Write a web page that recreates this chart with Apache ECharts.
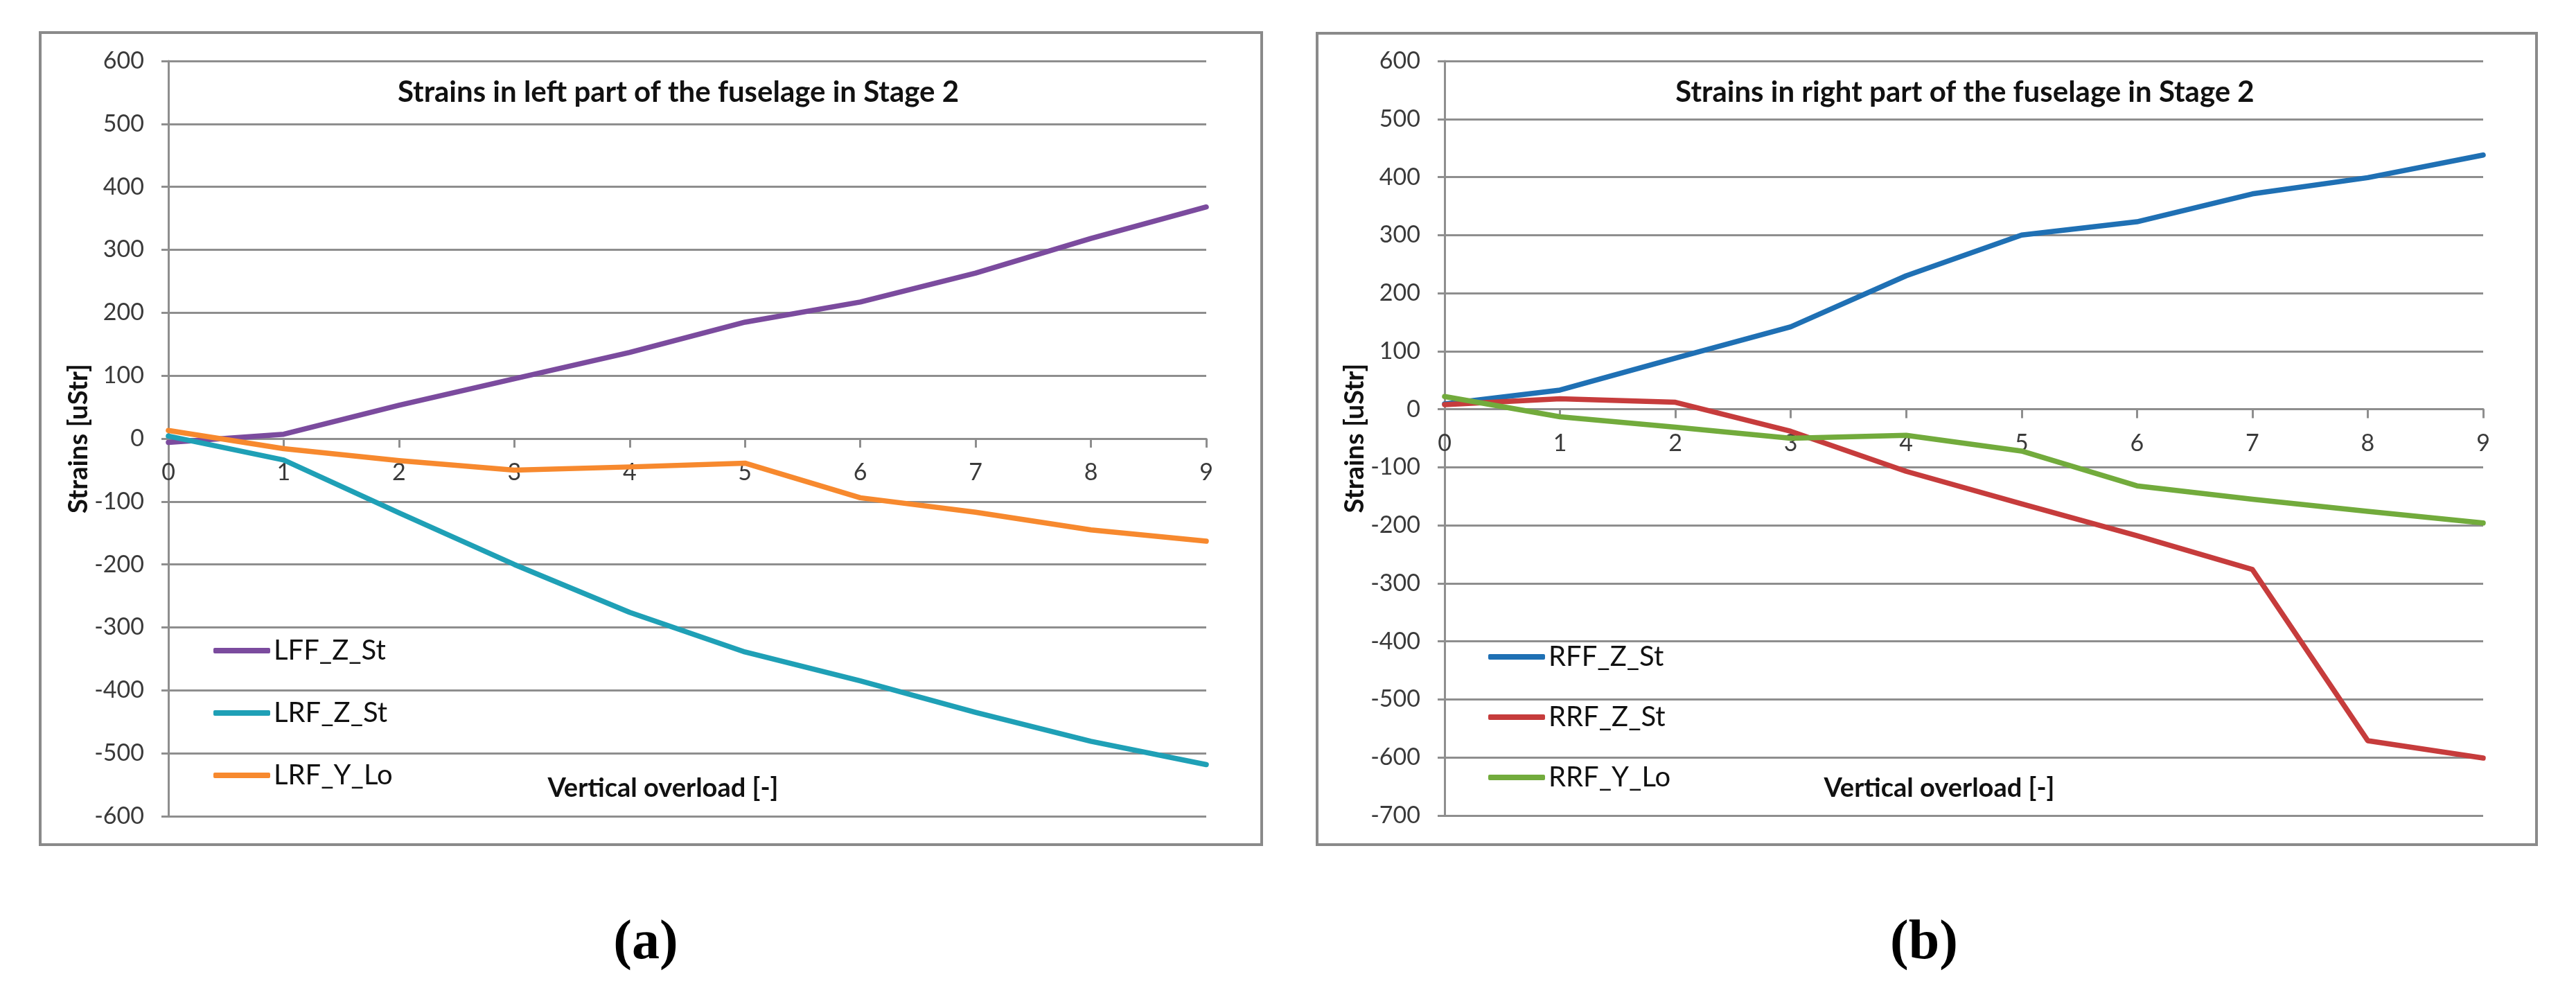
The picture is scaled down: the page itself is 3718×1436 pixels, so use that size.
<!DOCTYPE html>
<html>
<head>
<meta charset="utf-8">
<script src="https://cdn.jsdelivr.net/npm/echarts@6/dist/echarts.min.js"></script>
<style>
  html, body { margin: 0; padding: 0; background: #fff; }
  #chart { width: 3718px; height: 1436px; }
</style>
</head>
<body>
<div id="chart"></div>
<script>
// ---- data ----
const overload = [0, 1, 2, 3, 4, 5, 6, 7, 8, 9];
const LFF_Z_St = [-6, 7, 53, 95, 137, 185, 217, 263, 318, 368];
const LRF_Z_St = [4, -34, -118, -200, -276, -339, -385, -435, -481, -518];
const LRF_Y_Lo = [13, -16, -35, -50, -45, -39, -94, -117, -145, -163];
const RFF_Z_St = [9, 33, 88, 142, 230, 300, 323, 371, 399, 438];
const RRF_Z_St = [8, 18, 12, -38, -107, -163, -218, -276, -571, -601];
const RRF_Y_Lo = [22, -13, -31, -50, -45, -72, -132, -155, -176, -196];
const leftTitle = 'Strains in left part of the fuselage in Stage 2';
const rightTitle = 'Strains in right part of the fuselage in Stage 2';
const yName = 'Strains [uStr]';
const xName = 'Vertical overload [-]';
const yMax = 600;
const yMinLeft = -600;
const yMinRight = -700;

const pairs = arr => overload.map((x, i) => [x, arr[i]]);

const FONT = 'Lato';
const GRID_COLOR = '#8e8e8e';
const LABEL_COLOR = '#3a3a3a';

const grids = [
  { left: 243, right: 3718 - 1741, top: 88, bottom: 1436 - 1178 },
  { left: 2085, right: 3718 - 3584, top: 88, bottom: 1436 - 1177 }
];
const H = 1436;

// x axis sits on the zero line: shift it up from the bottom by the scale position of 0
function zeroOffset(gridIndex, min, max) {
  const g = grids[gridIndex];
  const plotH = H - g.top - g.bottom;
  return -((0 - min) / (max - min)) * plotH;
}

function xAxisCfg(gridIndex, min) {
  return {
    gridIndex, type: 'value', min: 0, max: 9, interval: 1, position: 'bottom',
    offset: zeroOffset(gridIndex, min, yMax),
    axisLine: { show: true, onZero: false, lineStyle: { color: GRID_COLOR, width: 3 } },
    axisTick: { show: true, length: 13, lineStyle: { color: GRID_COLOR, width: 3 } },
    axisLabel: { margin: 32, fontFamily: FONT, fontSize: 34, color: LABEL_COLOR },
    splitLine: { show: false }
  };
}
function yAxisCfg(gridIndex, min) {
  return {
    gridIndex, type: 'value', min: min, max: yMax, interval: 100,
    name: yName, nameLocation: 'middle', nameRotate: 90, nameGap: 108,
    nameTextStyle: { fontFamily: FONT, fontSize: 38, fontWeight: 'bold', color: '#111' },
    axisLine: { show: true, onZero: false, lineStyle: { color: GRID_COLOR, width: 3 } },
    axisTick: { show: true, length: 10, lineStyle: { color: GRID_COLOR, width: 3 } },
    axisLabel: { margin: 35, fontFamily: FONT, fontSize: 34, color: LABEL_COLOR },
    splitLine: { show: true, lineStyle: { color: GRID_COLOR, width: 3 } }
  };
}
function lineSeries(name, data, color, idx) {
  return {
    name, type: 'line', xAxisIndex: idx, yAxisIndex: idx, data: pairs(data),
    symbol: 'none', showSymbol: false, smooth: false,
    lineStyle: { color, width: 7.5, cap: 'round', join: 'round' },
    itemStyle: { color },
    emphasis: { disabled: true }
  };
}
function legendCfg(names, left, top, gap) {
  return {
    data: names, orient: 'vertical', left, top, padding: 0,
    icon: 'roundRect', itemWidth: 82, itemHeight: 8, itemGap: gap,
    textStyle: { fontFamily: FONT, fontSize: 40, color: '#111', lineHeight: 50 },
    selectedMode: false
  };
}
function textTitle(text, cx, cy, size, bold) {
  return {
    text, left: cx, top: cy, textAlign: 'center', textVerticalAlign: 'middle', padding: 0,
    textStyle: { fontFamily: FONT, fontSize: size, fontWeight: bold ? 'bold' : 'normal', color: '#111' }
  };
}
function subLabel(letter, cx, cy) {
  return {
    text: '(' + '{b|' + letter + '}' + ')', left: cx, top: cy,
    textAlign: 'center', textVerticalAlign: 'middle', padding: 0,
    textStyle: {
      fontFamily: 'Liberation Serif', fontSize: 80, color: '#000',
      rich: { b: { fontFamily: 'Liberation Serif', fontSize: 80, fontWeight: 'bold', color: '#000' } }
    }
  };
}

const chart = echarts.init(document.getElementById('chart'), null, { renderer: 'canvas' });
chart.setOption({
  animation: false,
  backgroundColor: '#ffffff',
  title: [
    textTitle(leftTitle, 979, 133, 42, true),
    textTitle(rightTitle, 2836, 133, 42, true),
    textTitle(xName, 957, 1138, 38, true),
    textTitle(xName, 2799, 1138, 38, true),
    subLabel('a', 932, 1362),
    subLabel('b', 2777, 1362)
  ],
  graphic: [
    { type: 'rect', shape: { x: 58, y: 47, width: 1763, height: 1172 }, style: { fill: 'none', stroke: '#8a8a8a', lineWidth: 4 }, silent: true },
    { type: 'rect', shape: { x: 1901, y: 48, width: 1760, height: 1171 }, style: { fill: 'none', stroke: '#8a8a8a', lineWidth: 4 }, silent: true }
  ],
  legend: [
    legendCfg(['LFF_Z_St', 'LRF_Z_St', 'LRF_Y_Lo'], 308, 914, 40),
    legendCfg(['RFF_Z_St', 'RRF_Z_St', 'RRF_Y_Lo'], 2148, 923, 37)
  ],
  grid: grids,
  xAxis: [xAxisCfg(0, yMinLeft), xAxisCfg(1, yMinRight)],
  yAxis: [yAxisCfg(0, yMinLeft), yAxisCfg(1, yMinRight)],
  series: [
    lineSeries('LFF_Z_St', LFF_Z_St, '#7b4b9e', 0),
    lineSeries('LRF_Z_St', LRF_Z_St, '#1fa0b6', 0),
    lineSeries('LRF_Y_Lo', LRF_Y_Lo, '#f7892e', 0),
    lineSeries('RFF_Z_St', RFF_Z_St, '#1f70b4', 1),
    lineSeries('RRF_Z_St', RRF_Z_St, '#c63c3c', 1),
    lineSeries('RRF_Y_Lo', RRF_Y_Lo, '#72ab3c', 1)
  ]
});
</script>
</body>
</html>
